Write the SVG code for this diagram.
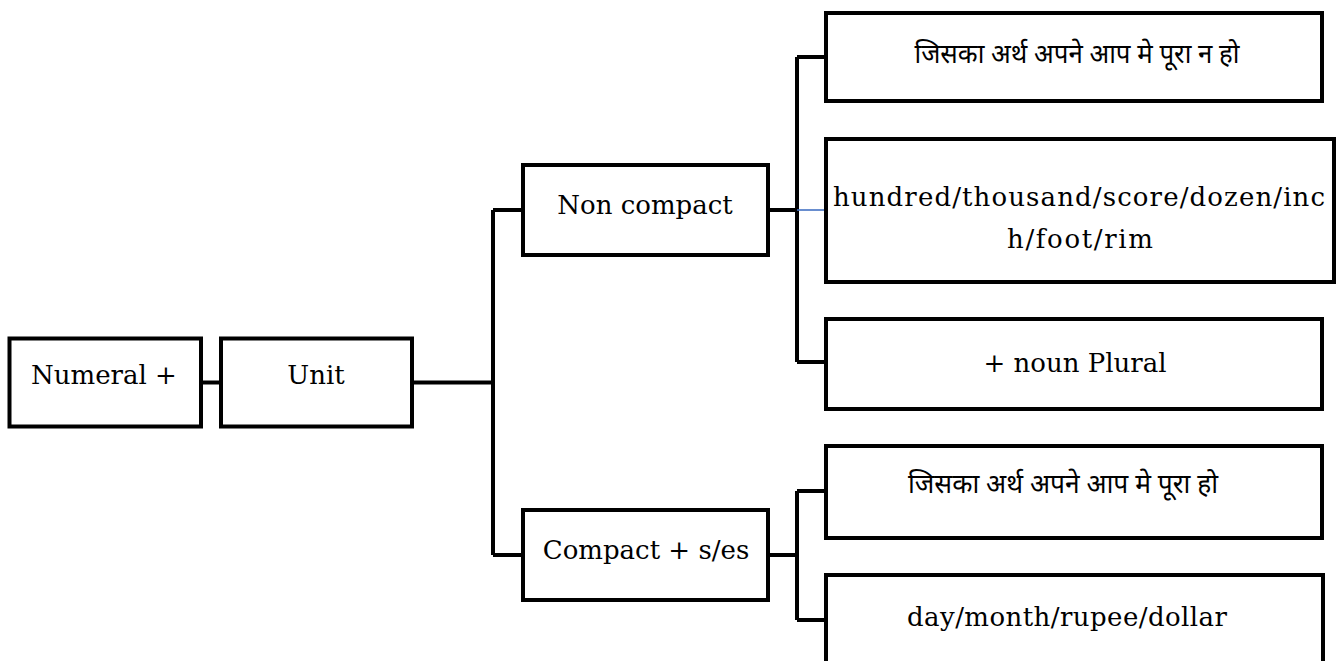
<svg xmlns="http://www.w3.org/2000/svg" width="1338" height="661" viewBox="0 0 1338 661">
<style>
.box{fill:#fff;stroke:#000;stroke-width:4}
.ln{fill:none;stroke:#000;stroke-width:4}
.blue{fill:none;stroke:#4472C4;stroke-width:1.6}
.t{font-family:"DejaVu Serif","Liberation Serif",serif;font-size:26px;fill:#000;text-anchor:middle}
.d{font-family:"Noto Sans Devanagari","Noto Sans","Noto Serif Devanagari",sans-serif;font-size:27px;fill:#000;text-anchor:middle}
</style>
<rect width="1338" height="661" fill="#fff"/>
<g id="connectors">
<path class="ln" d="M201,382.5 H221"/>
<path class="ln" d="M412,382.5 H493 M493,210 V555 M493,210 H523 M493,555 H523"/>
<path class="ln" d="M767,210 H797 M797,57 V362 M797,57 H826 M797,362 H826"/>
<path class="blue" d="M797,210 H826"/>
<path class="ln" d="M768,555 H797 M797,491 V620 M797,491 H826 M797,620 H826"/>
</g>
<g id="numeral"><rect class="box" x="9.5" y="338.5" width="191.5" height="88"/><text class="t" x="104" y="384">Numeral +</text></g>
<g id="unit"><rect class="box" x="221" y="338.5" width="191" height="88"/><text class="t" x="316" y="384">Unit</text></g>
<g id="noncompact"><rect class="box" x="523" y="165" width="245" height="90"/><text class="t" x="645" y="214">Non compact</text></g>
<g id="compact"><rect class="box" x="523" y="510" width="245" height="90"/><text class="t" x="646" y="559">Compact + s/es</text></g>
<g id="incomplete"><rect class="box" x="826" y="13" width="496" height="88"/><text class="d" x="1077" y="63" textLength="325" lengthAdjust="spacingAndGlyphs">जिसका अर्थ अपने आप मे पूरा न हो</text></g>
<g id="units-list"><rect class="box" x="826" y="139" width="508" height="143"/><text class="t" x="1079" y="206" textLength="492">hundred/thousand/score/dozen/inc</text><text class="t" x="1080" y="248" textLength="146">h/foot/rim</text></g>
<g id="noun-plural"><rect class="box" x="826" y="319" width="496" height="90"/><text class="t" x="1075" y="372">+ noun Plural</text></g>
<g id="complete"><rect class="box" x="826" y="446" width="496" height="92"/><text class="d" x="1063" y="493" textLength="310" lengthAdjust="spacingAndGlyphs">जिसका अर्थ अपने आप मे पूरा हो</text></g>
<g id="compact-list"><rect class="box" x="826" y="575" width="497" height="100"/><text class="t" x="1067" y="626" textLength="320">day/month/rupee/dollar</text></g>
</svg>
